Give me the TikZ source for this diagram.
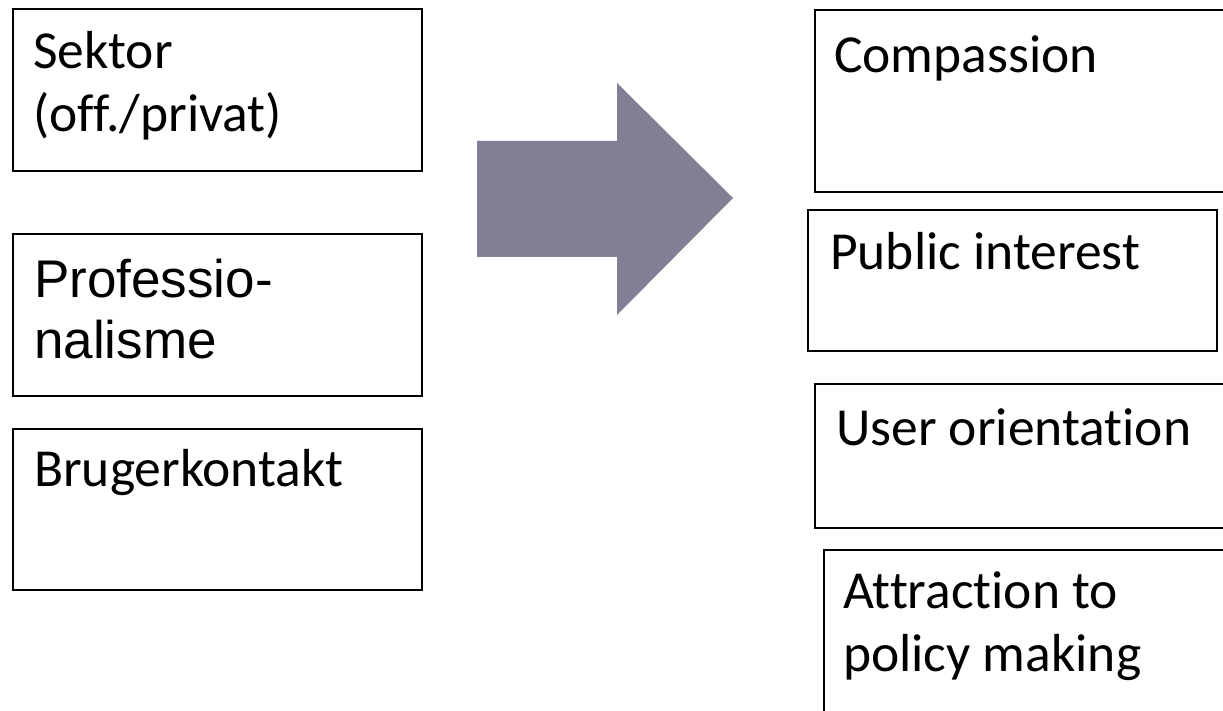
\documentclass[tikz,border=0pt]{standalone}
\usepackage{fontspec}
\setmainfont{Carlito}[Ligatures=CommonOff]
\newfontfamily\arialfont{Liberation Sans}
\usetikzlibrary{calc}
\definecolor{arrowgray}{RGB}{128,127,147}

\begin{document}
\begin{tikzpicture}[
box/.style={rectangle, draw, line width=1.6pt, inner sep=0pt, anchor=north west},
txt/.style={draw=none, fill=none, inner sep=0pt, anchor=base west, align=left,
  font=\fontsize{53.5pt}{63pt}\selectfont},
arialtxt/.style={txt, font=\arialfont\fontsize{53pt}{61pt}\selectfont}]

%% local variables
\def \lw {409pt}
\def \rw {409pt}
\def \lh {162pt}

%% canvas
\useasboundingbox (0,0) rectangle (1223pt,-711pt);
\clip (0,0) rectangle (1223pt,-711pt);

%% left boxes
\node[box, minimum width=\lw, minimum height=\lh] (sektor) at (12pt,-8pt) {};
\node[box, minimum width=\lw, minimum height=\lh] (prof) at (12pt,-233pt) {};
\node[box, minimum width=\lw, minimum height=161pt] (bruger) at (12pt,-428pt) {};

%% base of a two-line text is its last line
\node[txt] (sektor-t) at ($(sektor.north west)+(21pt,-124pt)$) {Sektor\\(off./privat)};
\node[arialtxt] (prof-t) at ($(prof.north west)+(22pt,-125pt)$) {Professio-\\nalisme};
\node[txt] (bruger-t) at ($(bruger.north west)+(22pt,-58pt)$) {Brugerkontakt};

%% the big arrow
\fill[arrowgray] (477pt,-141pt) -- (617pt,-141pt) -- (617pt,-83pt) -- (733pt,-198pt)
  -- (617pt,-315pt) -- (617pt,-257pt) -- (477pt,-257pt) -- cycle;

%% right boxes
\node[box, minimum width=\rw, minimum height=182pt] (comp) at (814pt,-9pt) {};
\node[box, minimum width=\rw, minimum height=141pt] (public) at (807pt,-209pt) {};
\node[box, minimum width=420pt, minimum height=144pt] (user) at (814pt,-383pt) {};
\node[box, minimum width=420pt, minimum height=200pt] (policy) at (823pt,-549pt) {};

\node[txt] (comp-t) at ($(comp.north west)+(20pt,-64pt)$) {Compassion};
\node[txt] (public-t) at ($(public.north west)+(23pt,-61pt)$) {Public interest};
\node[txt] (user-t) at ($(user.north west)+(22pt,-62pt)$) {User orientation};
\node[txt] (policy-t) at ($(policy.north west)+(20pt,-122pt)$) {Attraction to\\policy making};

\end{tikzpicture}
\end{document}
